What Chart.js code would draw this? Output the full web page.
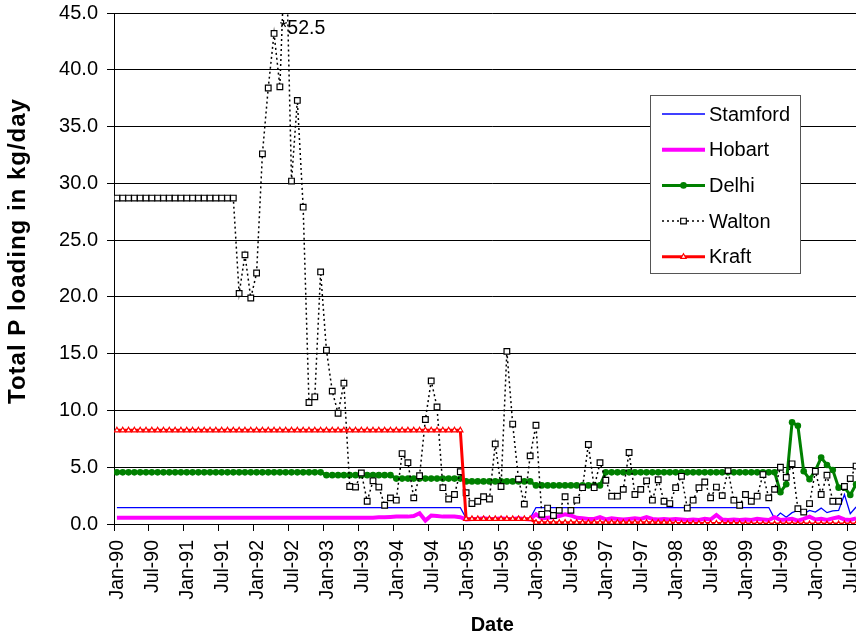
<!DOCTYPE html>
<html>
<head>
<meta charset="utf-8">
<script src="https://cdn.jsdelivr.net/npm/chart.js@4.4.1/dist/chart.umd.min.js"></script>
<style>
  html, body { margin: 0; padding: 0; background: #fff; overflow: hidden; }
  #wrap { width: 856px; height: 639px; overflow: hidden; }
  canvas { display: block; }
</style>
</head>
<body>
<div id="wrap"><canvas id="loadChart" width="880" height="639"></canvas></div>
<script>
// Monthly P loads, Jan-90 .. Aug-00 (one row per year), kg/day
const tickLabels = ['Jan-90', 'Jul-90', 'Jan-91', 'Jul-91', 'Jan-92', 'Jul-92', 'Jan-93', 'Jul-93',
    'Jan-94', 'Jul-94', 'Jan-95', 'Jul-95', 'Jan-96', 'Jul-96', 'Jan-97', 'Jul-97',
    'Jan-98', 'Jul-98', 'Jan-99', 'Jul-99', 'Jan-00', 'Jul-00'];

const yAxisTitle = 'Total P loading in kg/day';

const stamford = [
    1.45, 1.45, 1.45, 1.45, 1.45, 1.45, 1.45, 1.45, 1.45, 1.45, 1.45, 1.45,
    1.45, 1.45, 1.45, 1.45, 1.45, 1.45, 1.45, 1.45, 1.45, 1.45, 1.45, 1.45,
    1.45, 1.45, 1.45, 1.45, 1.45, 1.45, 1.45, 1.45, 1.45, 1.45, 1.45, 1.45,
    1.45, 1.45, 1.45, 1.45, 1.45, 1.45, 1.45, 1.45, 1.45, 1.45, 1.45, 1.45,
    1.45, 1.45, 1.45, 1.45, 1.45, 1.45, 1.45, 1.45, 1.45, 1.45, 1.45, 1.45,
    0.5, 0.5, 0.5, 0.5, 0.5, 0.5, 0.5, 0.5, 0.5, 0.5, 0.5, 0.5,
    1.45, 1.45, 1.45, 1.45, 1.45, 1.45, 1.45, 1.45, 1.45, 1.45, 1.45, 1.45,
    1.45, 1.45, 1.45, 1.45, 1.45, 1.45, 1.45, 1.45, 1.45, 1.45, 1.45, 1.45,
    1.45, 1.45, 1.45, 1.45, 1.45, 1.45, 1.45, 1.45, 1.45, 1.45, 1.45, 1.45,
    1.45, 1.45, 1.45, 1.45, 1.45, 0.47, 0.97, 0.6, 1.0, 1.2, 0.9, 1.2,
    1.05, 1.4, 1.0, 1.15, 1.2, 2.6, 0.9, 1.5,
];

const hobart = [
    0.55, 0.55, 0.55, 0.55, 0.55, 0.55, 0.55, 0.55, 0.55, 0.55, 0.55, 0.55,
    0.55, 0.55, 0.55, 0.55, 0.55, 0.55, 0.55, 0.55, 0.55, 0.55, 0.55, 0.55,
    0.55, 0.55, 0.55, 0.55, 0.55, 0.55, 0.55, 0.55, 0.55, 0.55, 0.55, 0.55,
    0.55, 0.55, 0.55, 0.55, 0.55, 0.55, 0.55, 0.55, 0.55, 0.6, 0.6, 0.62,
    0.65, 0.65, 0.65, 0.7, 0.95, 0.3, 0.75, 0.7, 0.65, 0.65, 0.65, 0.6,
    0.4, 0.45, 0.45, 0.5, 0.45, 0.45, 0.5, 0.45, 0.45, 0.5, 0.45, 0.4,
    0.85, 0.5, 0.55, 0.6, 0.7, 0.85, 0.75, 0.55, 0.5, 0.45, 0.45, 0.6,
    0.4, 0.5, 0.45, 0.4, 0.45, 0.5, 0.45, 0.6, 0.45, 0.4, 0.45, 0.4,
    0.45, 0.4, 0.35, 0.4, 0.35, 0.45, 0.4, 0.8, 0.4, 0.35, 0.4, 0.35,
    0.4, 0.35, 0.45, 0.4, 0.35, 0.6, 0.35, 0.4, 0.45, 0.3, 0.45, 0.65,
    0.4, 0.45, 0.35, 0.5, 0.6, 0.4, 0.35, 0.5,
];

const delhi = [
    4.55, 4.55, 4.55, 4.55, 4.55, 4.55, 4.55, 4.55, 4.55, 4.55, 4.55, 4.55,
    4.55, 4.55, 4.55, 4.55, 4.55, 4.55, 4.55, 4.55, 4.55, 4.55, 4.55, 4.55,
    4.55, 4.55, 4.55, 4.55, 4.55, 4.55, 4.55, 4.55, 4.55, 4.55, 4.55, 4.55,
    4.3, 4.3, 4.3, 4.3, 4.3, 4.3, 4.3, 4.3, 4.3, 4.3, 4.3, 4.3,
    4.0, 4.0, 4.0, 4.0, 4.0, 4.0, 4.0, 4.0, 4.0, 4.0, 4.0, 4.0,
    3.75, 3.75, 3.75, 3.75, 3.75, 3.75, 3.75, 3.75, 3.75, 3.75, 3.75, 3.75,
    3.4, 3.4, 3.4, 3.4, 3.4, 3.4, 3.4, 3.4, 3.4, 3.4, 3.4, 3.4,
    4.55, 4.55, 4.55, 4.55, 4.55, 4.55, 4.55, 4.55, 4.55, 4.55, 4.55, 4.55,
    4.55, 4.55, 4.55, 4.55, 4.55, 4.55, 4.55, 4.55, 4.55, 4.55, 4.55, 4.55,
    4.55, 4.55, 4.55, 4.55, 4.55, 4.55, 2.8, 3.5, 8.95, 8.65, 4.65, 3.95,
    4.7, 5.85, 5.2, 4.75, 3.2, 3.2, 2.55, 3.5,
];

const walton = [
    28.7, 28.7, 28.7, 28.7, 28.7, 28.7, 28.7, 28.7, 28.7, 28.7, 28.7, 28.7,
    28.7, 28.7, 28.7, 28.7, 28.7, 28.7, 28.7, 28.7, 28.7, 20.3, 23.7, 19.9,
    22.1, 32.6, 38.4, 43.2, 38.5, 52.5, 30.2, 37.3, 27.9, 10.7, 11.2, 22.2,
    15.3, 11.7, 9.75, 12.4, 3.3, 3.25, 4.5, 2.0, 3.8, 3.25, 1.65, 2.3,
    2.1, 6.2, 5.4, 2.3, 4.25, 9.2, 12.6, 10.3, 3.2, 2.2, 2.6, 4.6,
    2.75, 1.8, 2.0, 2.4, 2.2, 7.05, 3.3, 15.2, 8.8, 3.95, 1.75, 6.0,
    8.7, 0.85, 1.4, 0.75, 1.2, 2.4, 1.2, 2.1, 3.2, 7.0, 3.2, 5.4,
    3.85, 2.45, 2.45, 3.05, 6.3, 2.6, 3.05, 3.8, 2.1, 3.9, 2.0, 1.8,
    3.2, 4.2, 1.4, 2.1, 3.2, 3.7, 2.3, 3.25, 2.5, 4.7, 2.1, 1.65,
    2.6, 2.0, 2.45, 4.35, 2.3, 3.05, 5.0, 4.1, 5.3, 1.35, 1.05, 1.8,
    4.65, 2.6, 4.3, 2.0, 2.0, 3.3, 4.0, 5.1,
];

const kraft = [
    8.25, 8.25, 8.25, 8.25, 8.25, 8.25, 8.25, 8.25, 8.25, 8.25, 8.25, 8.25,
    8.25, 8.25, 8.25, 8.25, 8.25, 8.25, 8.25, 8.25, 8.25, 8.25, 8.25, 8.25,
    8.25, 8.25, 8.25, 8.25, 8.25, 8.25, 8.25, 8.25, 8.25, 8.25, 8.25, 8.25,
    8.25, 8.25, 8.25, 8.25, 8.25, 8.25, 8.25, 8.25, 8.25, 8.25, 8.25, 8.25,
    8.25, 8.25, 8.25, 8.25, 8.25, 8.25, 8.25, 8.25, 8.25, 8.25, 8.25, 8.25,
    0.45, 0.45, 0.45, 0.45, 0.45, 0.45, 0.45, 0.45, 0.45, 0.45, 0.45, 0.45,
    0.12, 0.12, 0.12, 0.12, 0.12, 0.12, 0.12, 0.12, 0.12, 0.12, 0.12, 0.12,
    0.12, 0.12, 0.12, 0.12, 0.12, 0.12, 0.12, 0.12, 0.12, 0.12, 0.12, 0.12,
    0.05, 0.05, 0.05, 0.05, 0.05, 0.05, 0.05, 0.05, 0.05, 0.05, 0.05, 0.05,
    0.0, 0.0, 0.0, 0.0, 0.0, 0.0, 0.0, 0.0, 0.0, 0.0, 0.0, 0.0,
    0.0, 0.0, 0.0, 0.0, 0.0, 0.0, 0.0, 0.0,
];

const peakNote = { label: '*52.5', month: 29 };

(function () {
    const canvas = document.getElementById('loadChart');
    if (!canvas || typeof Chart === 'undefined') return;

    const FONT = 'Arial, "Liberation Sans", sans-serif';

    // points sit mid-month; ticks are month starts
    const toPoints = (arr) => arr.map((v, i) => ({ x: i + 0.5, y: v }));

    const datasets = [
        {
            label: 'Stamford', data: toPoints(stamford), order: 5,
            borderColor: '#0000ff', borderWidth: 1.3, pointRadius: 0,
        },
        {
            label: 'Hobart', data: toPoints(hobart), order: 4,
            borderColor: '#ff00ff', borderWidth: 4, pointRadius: 0,
        },
        {
            label: 'Delhi', data: toPoints(delhi), order: 3,
            borderColor: '#008000', borderWidth: 3,
            pointStyle: 'circle', pointRadius: 3.3, pointBorderWidth: 0,
            pointBackgroundColor: '#008000', pointBorderColor: '#008000',
        },
        {
            label: 'Walton', data: toPoints(walton), order: 2,
            borderColor: '#000', borderWidth: 1.5, borderDash: [2, 3],
            pointStyle: 'rect', pointRadius: 4, pointBorderWidth: 1.2,
            pointBackgroundColor: '#fff', pointBorderColor: '#000',
        },
        {
            label: 'Kraft', data: toPoints(kraft), order: 1,
            borderColor: '#ff0000', borderWidth: 3,
            pointStyle: 'triangle', pointRadius: 3, pointBorderWidth: 1.2,
            pointBackgroundColor: '#fff', pointBorderColor: '#ff0000',
        },
    ];

    const legendBox = {
        id: 'legendBox',
        afterDraw(chart) {
            const { ctx } = chart;
            const box = { x: 650.5, y: 95.5, w: 150, h: 178 };
            ctx.save();
            ctx.fillStyle = '#fff';
            ctx.fillRect(box.x, box.y, box.w, box.h);
            ctx.strokeStyle = '#555';
            ctx.lineWidth = 1;
            ctx.strokeRect(box.x, box.y, box.w, box.h);

            chart.data.datasets.forEach((ds, i) => {
                const y = 114 + i * 35.7;
                ctx.save();
                ctx.strokeStyle = ds.borderColor;
                ctx.lineWidth = ds.borderWidth;
                ctx.setLineDash(ds.borderDash || []);
                ctx.beginPath();
                ctx.moveTo(662, y);
                ctx.lineTo(705, y);
                ctx.stroke();
                ctx.restore();
                if (ds.pointRadius > 0) {
                    ctx.fillStyle = ds.pointBackgroundColor;
                    ctx.strokeStyle = ds.pointBorderColor;
                    ctx.lineWidth = ds.pointBorderWidth;
                    Chart.helpers.drawPoint(ctx, {
                        pointStyle: ds.pointStyle,
                        radius: ds.pointRadius,
                        borderWidth: ds.pointBorderWidth,
                        rotation: 0,
                    }, 683.5, y);
                }
                ctx.fillStyle = '#000';
                ctx.font = '20px ' + FONT;
                ctx.textAlign = 'left';
                ctx.textBaseline = 'middle';
                ctx.fillText(ds.label, 709, y + 1);
            });
            ctx.restore();
        },
    };

    const peakLabel = {
        id: 'peakLabel',
        afterDatasetsDraw(chart) {
            const { ctx, scales } = chart;
            const x = scales.x.getPixelForValue(peakNote.month + 0.5) - 6;
            const y = chart.chartArea.top + 21;
            ctx.save();
            ctx.fillStyle = '#000';
            ctx.font = '19.5px ' + FONT;
            ctx.textAlign = 'left';
            ctx.textBaseline = 'alphabetic';
            ctx.fillText(peakNote.label, x, y);
            ctx.restore();
        },
    };

    // rotated y title, drawn by hand so it can be spaced out like the original
    const yTitle = {
        id: 'yTitle',
        afterDraw(chart) {
            const { ctx } = chart;
            ctx.save();
            ctx.translate(18, 251);
            ctx.rotate(-Math.PI / 2);
            ctx.font = 'bold 24px ' + FONT;
            if ('letterSpacing' in ctx) ctx.letterSpacing = '1px';
            ctx.fillStyle = '#000';
            ctx.textAlign = 'center';
            ctx.textBaseline = 'middle';
            ctx.fillText(yAxisTitle, 0, 0);
            ctx.restore();
        },
    };

    new Chart(canvas, {
        type: 'line',
        data: { datasets },
        options: {
            responsive: false,
            animation: false,
            events: [],
            layout: { padding: { top: 13, right: 8, bottom: 0, left: 0 } },
            elements: { line: { tension: 0 } },
            plugins: {
                legend: { display: false },
                tooltip: { enabled: false },
            },
            scales: {
                x: {
                    type: 'linear',
                    min: 0,
                    max: 130,
                    afterFit: (scale) => { scale.height = 115; },
                    grid: { drawOnChartArea: false, tickLength: 7, color: '#000' },
                    border: { color: '#000', width: 1 },
                    ticks: {
                        stepSize: 6,
                        includeBounds: false,
                        autoSkip: false,
                        maxRotation: 90,
                        minRotation: 90,
                        padding: 9,
                        labelOffset: 4,
                        color: '#000',
                        font: { family: FONT, size: 19.5 },
                        callback: (v) => (v % 6 === 0 ? tickLabels[v / 6] || '' : ''),
                    },
                    title: {
                        display: true,
                        text: 'Date',
                        color: '#000',
                        padding: { top: 0, bottom: 2 },
                        font: { family: FONT, size: 20, weight: 'bold' },
                    },
                },
                y: {
                    min: 0,
                    max: 45,
                    afterFit: (scale) => {
                        scale.width = 114;
                        scale.paddingTop = 0;
                        scale.paddingBottom = 0;
                    },
                    grid: { color: '#000', lineWidth: 1, tickLength: 7 },
                    border: { color: '#000', width: 1 },
                    ticks: {
                        stepSize: 5,
                        padding: 9,
                        color: '#000',
                        font: { family: FONT, size: 20 },
                        callback: (v) => v.toFixed(1),
                    },
                    title: { display: false },
                },
            },
        },
        plugins: [legendBox, peakLabel, yTitle],
    });
})();
</script>
</body>
</html>
